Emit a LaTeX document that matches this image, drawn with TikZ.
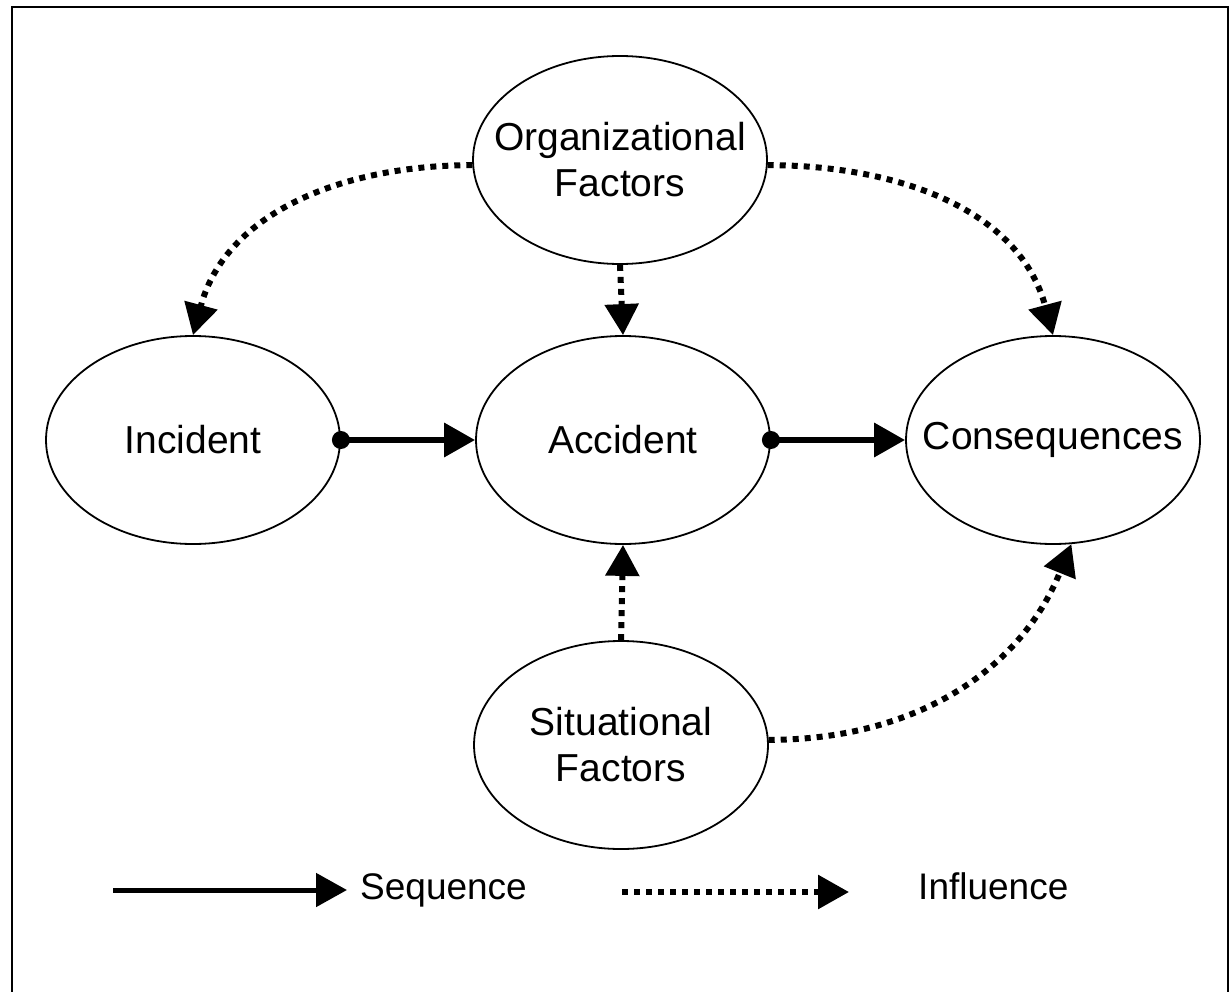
\documentclass[tikz,border=0pt]{standalone}
\usepackage{fontspec}
\setmainfont{Liberation Sans}
\usetikzlibrary{shapes.geometric,arrows.meta}
\tikzset{
  oval/.style={ellipse,draw,line width=1.8pt,minimum width=294pt,minimum height=208pt,inner sep=0pt},
  ovaltext/.style={align=center,inner sep=0pt,font=\fontsize{39}{46}\selectfont},
  seqline/.style={line width=6.5pt,-{Triangle[length=31pt,width=33pt]}},
  infline/.style={line width=6pt,dash pattern=on 6pt off 6pt,-{Triangle[length=31pt,width=33pt]}},
  legtext/.style={font=\fontsize{37}{42}\selectfont,anchor=west,inner sep=0pt},
  dotc/.style={fill=black}
}
\begin{document}
\begin{tikzpicture}[x=1pt,y=-1pt]
\useasboundingbox (0,0) rectangle (1230,992);
\draw[line width=2.2pt] (12,1000) -- (12,7) -- (1228,7) -- (1228,1000);
\node[oval] (org) at (620,160) {};
\node[ovaltext] (orgt) at (org.center) {Organizational\\Factors};
\node[oval] (inc) at (193,440) {};
\node[ovaltext] (inct) at (inc.center) {Incident};
\node[oval] (acc) at (623,440) {};
\node[ovaltext] (acct) at (acc.center) {Accident};
\node[oval] (con) at (1053,440) {};
\node[ovaltext] (cont) at (con.center) {Consequences};
\node[oval] (sit) at (621,745) {};
\node[ovaltext] (sitt) at (sit.center) {Situational\\Factors};
% sequence arrows
\draw[seqline] (inc.east) -- (acc.west);
\fill[dotc] (inc.east) circle (9pt);
\draw[seqline] (acc.east) -- (con.west);
\fill[dotc] (acc.east) circle (9pt);
% influence arrows
\draw[infline] (org.182) to[out=180,in=75] (inc.north);
\draw[infline] (org.-2) to[out=0,in=105] (con.north);
\draw[infline] (org.south) -- (acc.north);
\draw[infline] (sit.north) -- (acc.south);
\draw[infline] (sit.2) to[out=0,in=-112] (con.-80);
% legend
\coordinate (s1) at (113,890);
\coordinate (s2) at (347,890);
\draw[line width=5pt,-{Triangle[length=31pt,width=33pt]}] (s1) -- (s2);
\node[legtext] (seq) at (360,890) {Sequence};
\coordinate (i1) at (622,892);
\coordinate (i2) at (849,892);
\draw[infline] (i1) -- (i2);
\node[legtext] (inf) at (918,886) {Influence};
\end{tikzpicture}
\end{document}
